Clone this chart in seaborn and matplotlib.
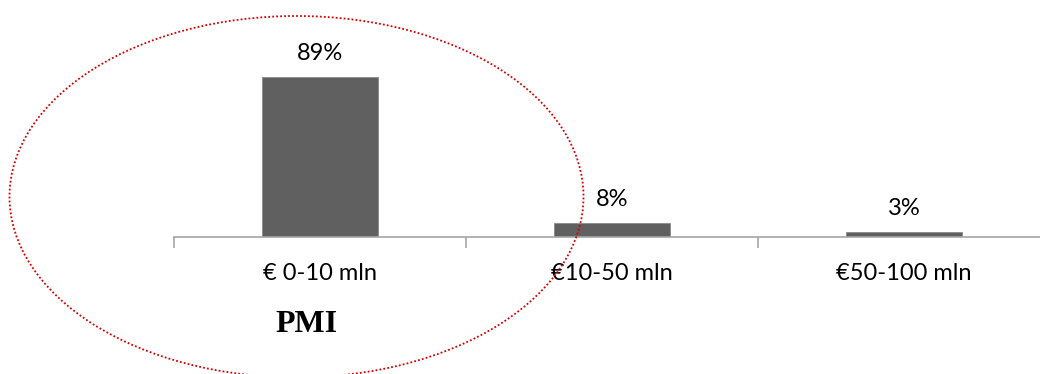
import matplotlib
matplotlib.use("Agg")
import matplotlib.pyplot as plt
from matplotlib.patches import Ellipse
import seaborn as sns
import pandas as pd

categories = ["€ 0-10 mln", "€10-50 mln", "€50-100 mln"]
values = [89, 8, 3]
value_labels = ["89%", "8%", "3%"]
annotation = "PMI"

sns.set_theme(style="white")
plt.rcParams['font.family'] = ['Lato', 'DejaVu Sans']

fig = plt.figure(figsize=(10.4, 3.74), dpi=100)
ax = fig.add_axes([174/1040, (374-237)/374, 876/1040, 180/374])

df = pd.DataFrame({"cat": categories, "val": values})
sns.barplot(data=df, x="cat", y="val", order=categories, color="#606060",
            saturation=1, width=0.4, ax=ax)
for p in ax.patches:
    p.set_edgecolor("#8a8a8a")
    p.set_linewidth(0.6)

ax.set_xlim(-0.5, 2.5)
ax.set_ylim(0, 100)
ax.set_xlabel("")
ax.set_ylabel("")
ax.set_yticks([])
for s in ["left", "top", "right"]:
    ax.spines[s].set_visible(False)
ax.spines["bottom"].set_color("#a6a6a6")
ax.spines["bottom"].set_linewidth(1.2)

ax.set_xticks(range(len(categories)))
ax.set_xticklabels(categories, fontsize=17, color="#000000")
ax.tick_params(axis="x", which="major", length=0, pad=19)
ax.set_xticks([-0.5, 0.5, 1.5, 2.5], minor=True)
ax.tick_params(axis="x", which="minor", length=8, width=1.2, color="#a6a6a6", bottom=True)

for i, (v, lab) in enumerate(zip(values, value_labels)):
    ax.annotate(lab, (i, v), xytext=(0, 9), textcoords="offset points",
                ha="center", va="bottom", fontsize=17, color="#000000")

fig.text(307/1040, 1-325/374, annotation, ha="center", va="center",
         fontsize=23, fontweight="bold", family=["Liberation Serif"], color="#000000")

ell = Ellipse((296.5/1040, 1-196.7/374), 574/1040, 361.4/374,
              transform=fig.transFigure, fill=False, edgecolor="#d40000",
              linewidth=1.3, linestyle=(0, (1, 1.2)))
fig.add_artist(ell)

fig.savefig("out.png", dpi=100)
